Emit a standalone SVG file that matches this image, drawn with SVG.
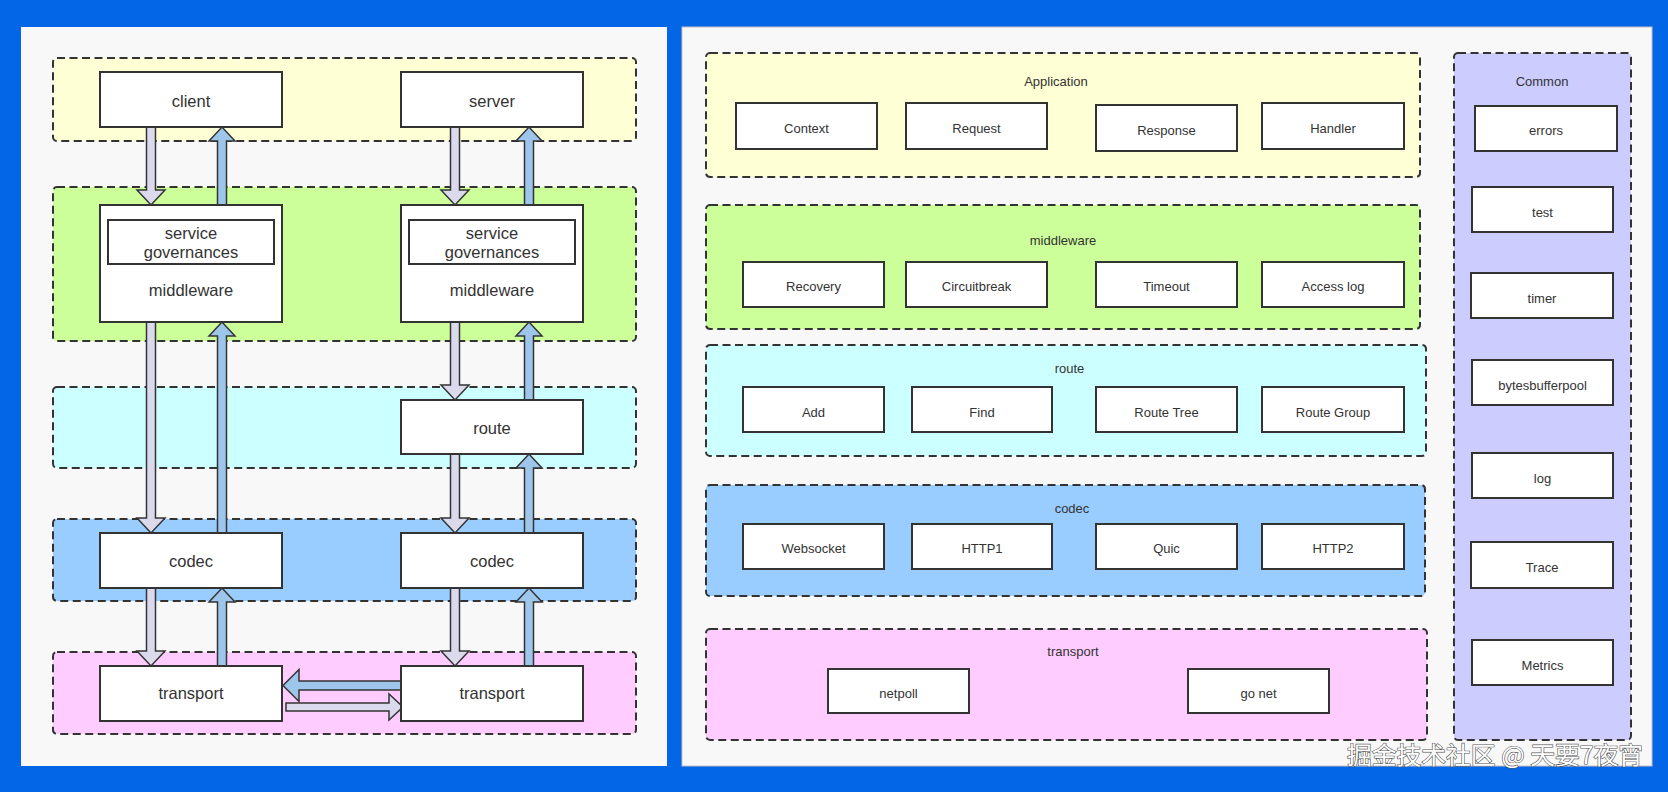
<svg xmlns="http://www.w3.org/2000/svg" width="1668" height="792" viewBox="0 0 1668 792">
<style>
.panel{fill:#f8f8f8}
.grp{stroke:#333;stroke-width:2;stroke-dasharray:8 4.5}
.yel{fill:#ffffd5}.grn{fill:#ccff99}.cyn{fill:#ccffff}.blu{fill:#99ccff}.pnk{fill:#ffccff}.lav{fill:#ccccff}
.box{fill:#fff;stroke:#333;stroke-width:2}
.t16{font-family:"Liberation Sans",Arial,sans-serif;font-size:16.5px;fill:#333;text-anchor:middle}
.t13{font-family:"Liberation Sans",Arial,sans-serif;font-size:13px;fill:#333;text-anchor:middle}
.dn{fill:#dadaec;stroke:#333;stroke-width:1.5;stroke-linejoin:miter}
.up{fill:#9ec5ea;stroke:#333;stroke-width:1.5;stroke-linejoin:miter}
.wm{font-family:"Noto Sans CJK SC",sans-serif;font-size:24px;fill:#fff;stroke:#555;stroke-width:1.2;paint-order:stroke}
</style>
<rect x="0" y="0" width="1668" height="792" fill="#0266e6"/>
<rect class="panel" x="21" y="27" width="646" height="739"/>
<rect class="panel" x="682" y="27" width="970" height="739" stroke="#c9bfc6" stroke-width="1"/>

<g id="layers-left">
<rect id="l-app" class="grp yel" x="53" y="58" width="583" height="83" rx="4"/>
<rect id="l-mw" class="grp grn" x="53" y="187" width="583" height="154" rx="4"/>
<rect id="l-route" class="grp cyn" x="53" y="387" width="583" height="81" rx="4"/>
<rect id="l-codec" class="grp blu" x="53" y="519" width="583" height="82" rx="4"/>
<rect id="l-transport" class="grp pnk" x="53" y="652" width="583" height="82" rx="4"/>
</g>

<g id="connectors">
<polygon class="dn" points="146.5,127 155.5,127 155.5,190 165,190 151,205 137,190 146.5,190"/>
<polygon class="dn" points="146.5,322 155.5,322 155.5,518 165,518 151,533 137,518 146.5,518"/>
<polygon class="dn" points="146.5,588 155.5,588 155.5,651 165,651 151,666 137,651 146.5,651"/>
<polygon class="up" points="217.5,205 226.5,205 226.5,141 235,141 222,127 209,141 217.5,141"/>
<polygon class="up" points="217.5,533 226.5,533 226.5,336 235,336 222,322 209,336 217.5,336"/>
<polygon class="up" points="217.5,666 226.5,666 226.5,602 235,602 222,588 209,602 217.5,602"/>
<polygon class="dn" points="450.5,127 459.5,127 459.5,190 469,190 455,205 441,190 450.5,190"/>
<polygon class="dn" points="450.5,322 459.5,322 459.5,385 469,385 455,400 441,385 450.5,385"/>
<polygon class="dn" points="450.5,454 459.5,454 459.5,518 469,518 455,533 441,518 450.5,518"/>
<polygon class="dn" points="450.5,588 459.5,588 459.5,651 469,651 455,666 441,651 450.5,651"/>
<polygon class="up" points="524.5,205 533.5,205 533.5,141 542,141 529,127 516,141 524.5,141"/>
<polygon class="up" points="524.5,400 533.5,400 533.5,336 542,336 529,322 516,336 524.5,336"/>
<polygon class="up" points="524.5,533 533.5,533 533.5,468 542,468 529,454 516,468 524.5,468"/>
<polygon class="up" points="524.5,666 533.5,666 533.5,602 542,602 529,588 516,602 524.5,602"/>
<polygon class="up" points="401,681 401,690 299,690 299,701.5 283,685.5 299,669.5 299,681"/>
<polygon class="dn" points="286,703 389,703 389,694 403,707 389,720 389,711 286,711"/>
</g>

<g id="client"><rect class="box" x="100" y="72" width="182" height="55"/><text class="t16" x="191" y="106.5">client</text></g>
<g id="server"><rect class="box" x="401" y="72" width="182" height="55"/><text class="t16" x="492" y="106.5">server</text></g>
<g id="client-middleware"><rect class="box" x="100" y="205" width="182" height="117"/>
<rect class="box" x="108" y="220" width="166" height="44"/>
<text class="t16" x="191" y="238.5">service</text><text class="t16" x="191" y="258">governances</text>
<text class="t16" x="191" y="296">middleware</text></g>
<g id="server-middleware"><rect class="box" x="401" y="205" width="182" height="117"/>
<rect class="box" x="409" y="220" width="166" height="44"/>
<text class="t16" x="492" y="238.5">service</text><text class="t16" x="492" y="258">governances</text>
<text class="t16" x="492" y="296">middleware</text></g>
<g id="server-route"><rect class="box" x="401" y="400" width="182" height="54"/><text class="t16" x="492" y="434">route</text></g>
<g id="client-codec"><rect class="box" x="100" y="533" width="182" height="55"/><text class="t16" x="191" y="567">codec</text></g>
<g id="server-codec"><rect class="box" x="401" y="533" width="182" height="55"/><text class="t16" x="492" y="567">codec</text></g>
<g id="client-transport"><rect class="box" x="100" y="666" width="182" height="55"/><text class="t16" x="191" y="698.5">transport</text></g>
<g id="server-transport"><rect class="box" x="401" y="666" width="182" height="55"/><text class="t16" x="492" y="698.5">transport</text></g>

<g id="application">
<rect class="grp yel" x="706" y="53" width="714" height="124" rx="4"/>
<text class="t13" x="1056" y="85.5">Application</text>
<rect class="box" x="736" y="103" width="141" height="46"/><text class="t13" x="806.5" y="133">Context</text>
<rect class="box" x="906" y="103" width="141" height="46"/><text class="t13" x="976.5" y="133">Request</text>
<rect class="box" x="1096" y="105" width="141" height="46"/><text class="t13" x="1166.5" y="135">Response</text>
<rect class="box" x="1262" y="103" width="142" height="46"/><text class="t13" x="1333" y="133">Handler</text>
</g>
<g id="middleware">
<rect class="grp grn" x="706" y="205" width="714" height="124" rx="4"/>
<text class="t13" x="1063" y="245">middleware</text>
<rect class="box" x="743" y="262" width="141" height="45"/><text class="t13" x="813.5" y="291">Recovery</text>
<rect class="box" x="906" y="262" width="141" height="45"/><text class="t13" x="976.5" y="291">Circuitbreak</text>
<rect class="box" x="1096" y="262" width="141" height="45"/><text class="t13" x="1166.5" y="291">Timeout</text>
<rect class="box" x="1262" y="262" width="142" height="45"/><text class="t13" x="1333" y="291">Access log</text>
</g>
<g id="route">
<rect class="grp cyn" x="706" y="345" width="720" height="111" rx="4"/>
<text class="t13" x="1069.5" y="373">route</text>
<rect class="box" x="743" y="387" width="141" height="45"/><text class="t13" x="813.5" y="416.5">Add</text>
<rect class="box" x="912" y="387" width="140" height="45"/><text class="t13" x="982" y="416.5">Find</text>
<rect class="box" x="1096" y="387" width="141" height="45"/><text class="t13" x="1166.5" y="416.5">Route Tree</text>
<rect class="box" x="1262" y="387" width="142" height="45"/><text class="t13" x="1333" y="416.5">Route Group</text>
</g>
<g id="codec">
<rect class="grp blu" x="706" y="485" width="719" height="111" rx="4"/>
<text class="t13" x="1072" y="513">codec</text>
<rect class="box" x="743" y="524" width="141" height="45"/><text class="t13" x="813.5" y="553">Websocket</text>
<rect class="box" x="912" y="524" width="140" height="45"/><text class="t13" x="982" y="553">HTTP1</text>
<rect class="box" x="1096" y="524" width="141" height="45"/><text class="t13" x="1166.5" y="553">Quic</text>
<rect class="box" x="1262" y="524" width="142" height="45"/><text class="t13" x="1333" y="553">HTTP2</text>
</g>
<g id="transport">
<rect class="grp pnk" x="706" y="629" width="721" height="111" rx="4"/>
<text class="t13" x="1073" y="655.5">transport</text>
<rect class="box" x="828" y="669" width="141" height="44"/><text class="t13" x="898.5" y="697.5">netpoll</text>
<rect class="box" x="1188" y="669" width="141" height="44"/><text class="t13" x="1258.5" y="697.5">go net</text>
</g>
<g id="common">
<rect class="grp lav" x="1454" y="53" width="177" height="687" rx="4"/>
<text class="t13" x="1542" y="85.5">Common</text>
<rect class="box" x="1475" y="106" width="142" height="45"/><text class="t13" x="1546" y="135">errors</text>
<rect class="box" x="1472" y="187" width="141" height="45"/><text class="t13" x="1542.5" y="216.5">test</text>
<rect class="box" x="1471" y="273" width="142" height="45"/><text class="t13" x="1542" y="302.5">timer</text>
<rect class="box" x="1472" y="360" width="141" height="45"/><text class="t13" x="1542.5" y="389.5">bytesbufferpool</text>
<rect class="box" x="1472" y="453" width="141" height="45"/><text class="t13" x="1542.5" y="482.5">log</text>
<rect class="box" x="1471" y="542" width="142" height="46"/><text class="t13" x="1542" y="572">Trace</text>
<rect class="box" x="1472" y="640" width="141" height="45"/><text class="t13" x="1542.5" y="669.5">Metrics</text>
</g>
<text class="wm" x="1347" y="764" textLength="296" lengthAdjust="spacingAndGlyphs">掘金技术社区 @ 天要7夜宵</text>
</svg>
